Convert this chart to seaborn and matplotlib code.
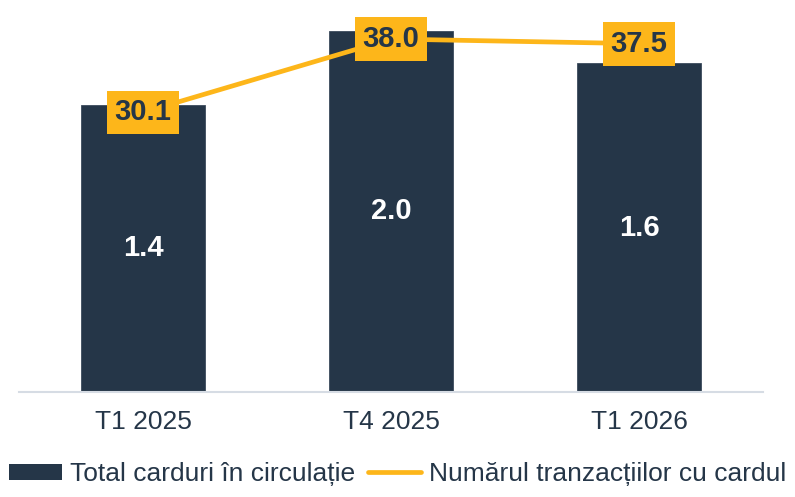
import matplotlib
matplotlib.use("Agg")
import matplotlib.pyplot as plt
import seaborn as sns
import pandas as pd
from matplotlib.patches import Patch
from matplotlib.lines import Line2D

# ---- data ----
categories = ["T1 2025", "T4 2025", "T1 2026"]
card_values = [1.4, 2.0, 1.6]            # printed bar labels (total cards)
bar_heights = [30.9, 38.9, 35.4]         # bar heights as drawn in the reference (shared scale)
transactions = [30.1, 38.0, 37.5]        # line values
series_names = ["Total carduri în circulație", "Numărul tranzacțiilor cu cardul"]

BAR_C = "#253648"
LINE_C = "#FDB61A"
TEXT_C = "#253648"
AXIS_C = "#D6DCE4"

sns.set_theme(style="white")
plt.rcParams["font.family"] = ["Liberation Sans", "DejaVu Sans"]

fig = plt.figure(figsize=(7.95, 4.97), dpi=100)
ax = fig.add_axes([19 / 795, 1 - 392 / 497, 744 / 795, 392 / 497])

df = pd.DataFrame({"cat": categories, "h": bar_heights})
sns.barplot(data=df, x="cat", y="h", color=BAR_C, width=0.5, ax=ax,
            saturation=1, edgecolor="#3C4B5C", linewidth=0.6)

xs = list(range(len(categories)))
ax.plot(xs, transactions, color=LINE_C, lw=3.4, solid_capstyle="butt", zorder=3)

for x, h, v in zip(xs, bar_heights, card_values):
    ax.text(x, h / 2, f"{v:.1f}", ha="center", va="center", color="white",
            fontsize=21, fontweight="bold", zorder=4)

for x, v in zip(xs, transactions):
    ax.text(x, v, f"{v:.1f}", ha="center", va="center", color=TEXT_C,
            fontsize=21, fontweight="bold", zorder=5,
            bbox=dict(boxstyle="square,pad=0.27", fc=LINE_C, ec="none"))

ax.set_xlim(-0.5, len(categories) - 0.5)
ax.set_ylim(0, 42.2)
ax.set_xlabel("")
ax.set_ylabel("")
ax.set_yticks([])
ax.tick_params(axis="x", length=0, pad=13, labelsize=19, labelcolor=TEXT_C)
for s in ["top", "right", "left"]:
    ax.spines[s].set_visible(False)
ax.spines["bottom"].set_color(AXIS_C)
ax.spines["bottom"].set_linewidth(1.5)

handles = [Patch(facecolor=BAR_C, edgecolor="none"),
           Line2D([0], [0], color=LINE_C, lw=3.4)]
fig.legend(handles, series_names, loc="center", bbox_to_anchor=(0.5, 23 / 497),
           ncol=2, frameon=False, fontsize=19, labelcolor=TEXT_C,
           handlelength=2.0, handleheight=0.55, handletextpad=0.3,
           columnspacing=0.5, borderaxespad=0, borderpad=0)

fig.savefig("out.png", dpi=100)
